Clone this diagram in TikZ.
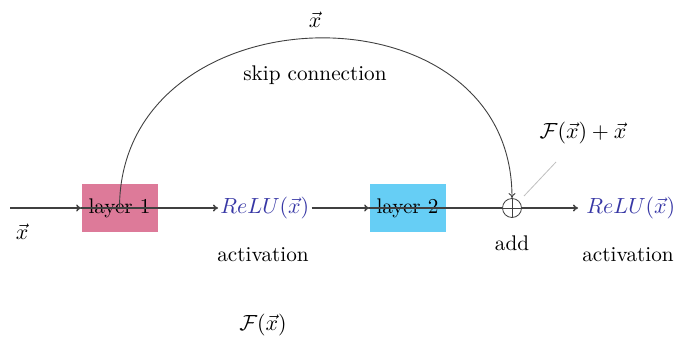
\documentclass[tikz,border=0pt]{standalone}
\usetikzlibrary{arrows.meta}
\definecolor{pinkbox}{RGB}{221,122,153}
\definecolor{cyanbox}{RGB}{102,206,245}
\definecolor{relublue}{RGB}{55,55,165}
\begin{document}
\begin{tikzpicture}[x=0.5pt,y=0.5pt,
  every node/.style={font=\fontsize{10.6}{12}\selectfont, inner sep=1pt},
  layerbox/.style={minimum width=38pt, minimum height=24pt, inner sep=0pt},
  reluT/.style={text=relublue},
  mainline/.style={draw=black!75, line width=0.75pt},
  arr/.style={-{To[length=2.5pt,width=3.5pt]}}]
\useasboundingbox (0,0) rectangle (674,344);
% boxes
\node[layerbox, fill=pinkbox] (l1) at (119.5,136) {layer 1};
\node[layerbox, fill=cyanbox] (l2) at (407.5,136) {layer 2};
\node[reluT, anchor=west] (relu1) at (218,136) {$ReLU(\vec{x})$};
\node[reluT, anchor=west] (relu2) at (584,136) {$ReLU(\vec{x})$};
\node[circle, draw=black!75, minimum size=9.5pt, inner sep=0pt] (add) at (512,136) {};
\draw[black!75] (add.north) -- (add.south) (add.west) -- (add.east);
\coordinate (in) at (10,136);
% labels
\node (xin) at (22,112) {$\vec{x}$};
\node (act1) at (263,89) {activation};
\node (act2) at (628,89) {activation};
\node (addl) at (512,101) {add};
\node (Fx) at (263,19) {$\mathcal{F}(\vec{x})$};
\node (skipl) at (315,269) {skip connection};
\node (xtop) at (315,324) {$\vec{x}$};
\node (suml) at (583,211) {$\mathcal{F}(\vec{x})+\vec{x}$};
% main flow
\draw[mainline, arr] (in) -- (l1.west);
\draw[mainline, arr] (l1.west) -- (relu1.west);
\draw[mainline, arr] (relu1.east) -- (l2.west);
\draw[mainline] (l2.west) -- (add.west);
\draw[mainline, arr] (add.east) -- (578,136);
% skip connection
\draw[black!75, line width=0.45pt, arr] (l1.center) .. controls +(0,220) and +(0,220) .. (add.north);
% pointer line
\draw[black!25, line width=0.4pt] (524,148) -- (556,182);
\end{tikzpicture}
\end{document}
